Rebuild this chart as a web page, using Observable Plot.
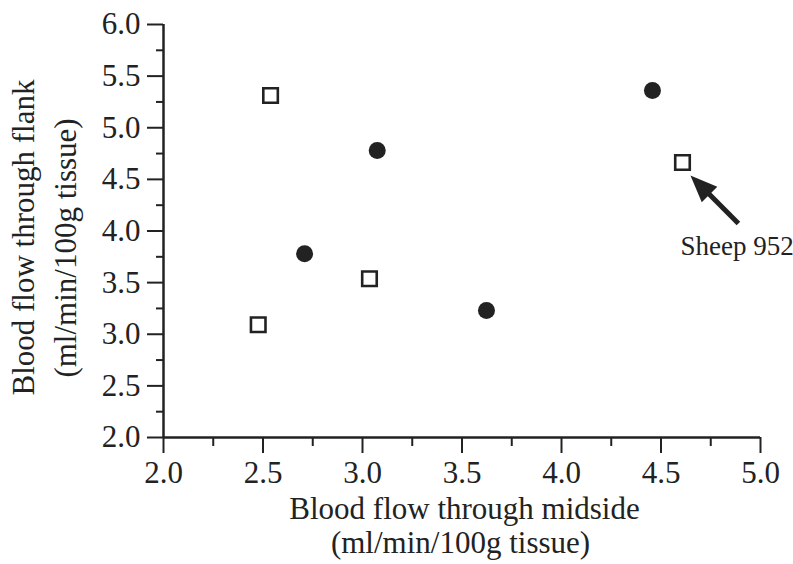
<!DOCTYPE html>
<html><head><meta charset="utf-8">
<script src="https://cdn.jsdelivr.net/npm/d3@7"></script>
<script src="https://cdn.jsdelivr.net/npm/@observablehq/plot@0.6"></script>
<style>body{margin:0;background:#fff}</style>
</head><body><div id="chart"></div>
<script>
// Open squares
const openX = [2.538, 2.476, 3.035, 4.608];
const openY = [5.312, 3.092, 3.537, 4.663];
// Filled circles
const filledX = [2.709, 3.074, 3.623, 4.457];
const filledY = [3.779, 4.780, 3.230, 5.361];
// Ticks
const majorXTicks = [2.0, 2.5, 3.0, 3.5, 4.0, 4.5, 5.0];
const minorXTicks = [2.25, 2.75, 3.25, 3.75, 4.25, 4.75];
const majorYTicks = [2.0, 2.5, 3.0, 3.5, 4.0, 4.5, 5.0, 5.5, 6.0];
const minorYTicks = [2.25, 2.75, 3.25, 3.75, 4.25, 4.75, 5.25, 5.75];
// Labels
const xLabel = ["Blood flow through midside", "(ml/min/100g tissue)"];
const yLabel = ["Blood flow through flank", "(ml/min/100g tissue)"];
// Annotation
const annotText = ["Sheep 952"];
const annotTextPos = [4.598, 3.763];
const arrowTip = [4.648, 4.538];
const arrowBase = [4.719, 4.402];
const arrowTail = [4.889, 4.073];

const ink = "#222";
const open = openX.map((x, i) => ({x, y: openY[i]}));
const filled = filledX.map((x, i) => ({x, y: filledY[i]}));
const f1 = d3.format(".1f");

const chart = Plot.plot({
  width: 793,
  height: 564,
  marginLeft: 163,
  marginRight: 33,
  marginTop: 24,
  marginBottom: 127,
  style: {fontFamily: '"Liberation Serif", "Times New Roman", serif', fontSize: "31px", color: ink, background: "#fff"},
  x: {domain: [2, 5]},
  y: {domain: [2, 6]},
  marks: [
    Plot.axisX(majorXTicks, {tickSize: 16, tickPadding: 7.5, tickFormat: f1, strokeWidth: 2, fontSize: 31, label: null}),
    Plot.axisX(minorXTicks, {tickSize: 9, tickFormat: () => "", strokeWidth: 2, label: null}),
    Plot.axisY(majorYTicks, {tickSize: 16, tickPadding: 7, tickFormat: f1, strokeWidth: 2, fontSize: 31, label: null}),
    Plot.axisY(minorYTicks, {tickSize: 7, tickFormat: () => "", strokeWidth: 2, label: null}),
    Plot.ruleY([2], {stroke: ink, strokeWidth: 2.5}),
    Plot.ruleX([2], {stroke: ink, strokeWidth: 2.5}),
    Plot.dot(open, {x: "x", y: "y", symbol: "square", r: 8.2, stroke: ink, strokeWidth: 2.6, fill: "white"}),
    Plot.dot(filled, {x: "x", y: "y", r: 8.5, fill: ink, stroke: "none"}),
    Plot.link([0], {x1: () => arrowTail[0], y1: () => arrowTail[1], x2: () => arrowBase[0], y2: () => arrowBase[1], stroke: ink, strokeWidth: 5}),
    Plot.vector([0], {x: () => arrowTip[0], y: () => arrowTip[1], rotate: -45, length: 27, r: 11, shape: "spike", anchor: "end", fill: ink, stroke: "none"}),
    Plot.text(annotText, {x: () => annotTextPos[0], y: () => annotTextPos[1], text: d => d, textAnchor: "start", lineAnchor: "bottom", fontSize: 27, fill: ink}),
    Plot.text([xLabel[0]], {frameAnchor: "bottom", text: d => d, textAnchor: "middle", lineAnchor: "bottom", dy: 81, dx: 2.5, fontSize: 31, fill: ink}),
    Plot.text([xLabel[1]], {frameAnchor: "bottom", text: d => d, textAnchor: "middle", lineAnchor: "bottom", dy: 115, dx: -1.5, fontSize: 31, fill: ink}),
    Plot.text([yLabel[0]], {frameAnchor: "left", text: d => d, rotate: -90, textAnchor: "middle", lineAnchor: "bottom", dx: -130, dy: 6.5, fontSize: 31, fill: ink}),
    Plot.text([yLabel[1]], {frameAnchor: "left", text: d => d, rotate: -90, textAnchor: "middle", lineAnchor: "bottom", dx: -88, dy: 17, fontSize: 31, fill: ink})
  ]
});
document.getElementById("chart").append(chart);
</script>
</body></html>
